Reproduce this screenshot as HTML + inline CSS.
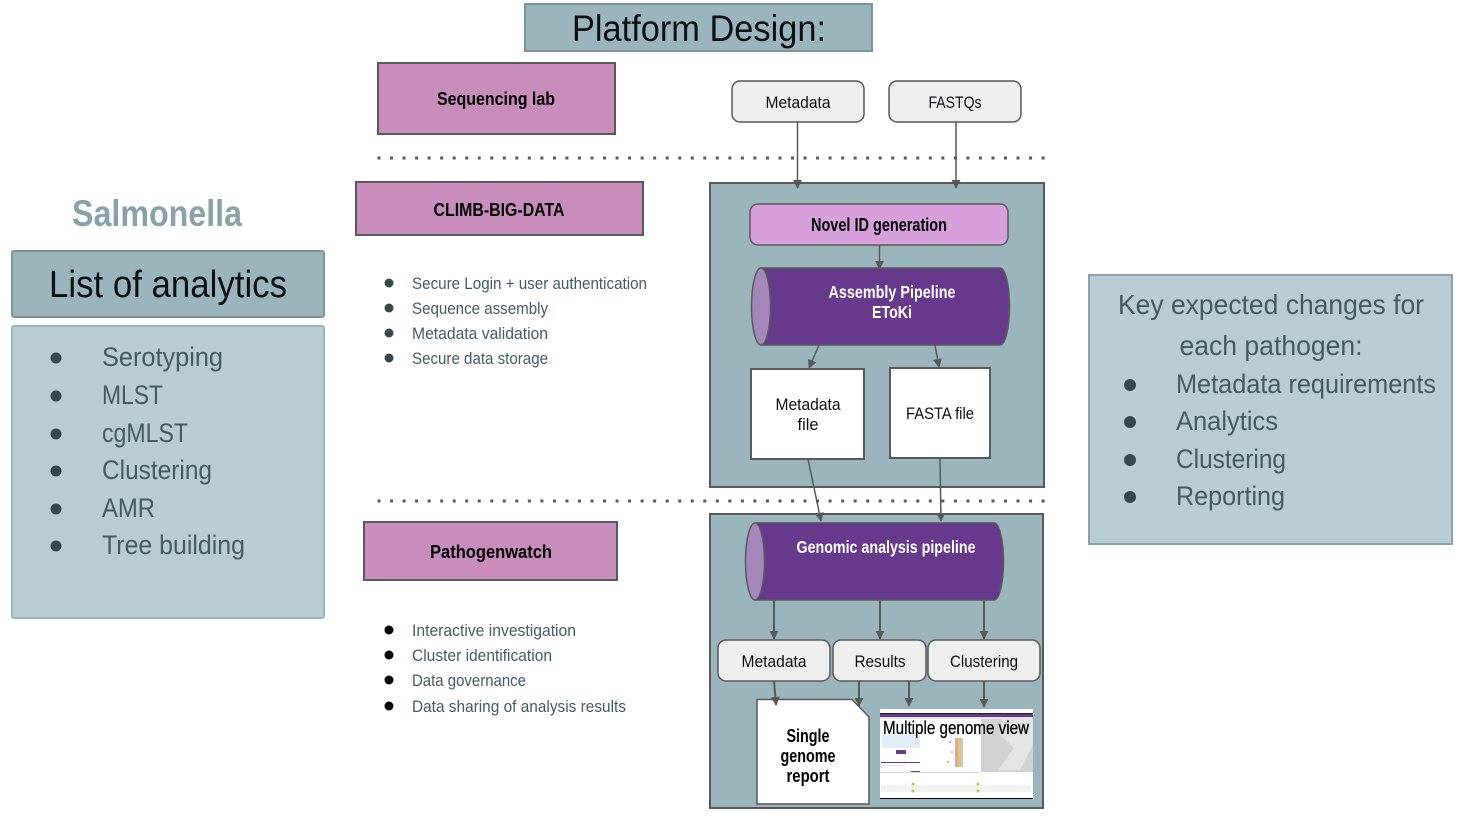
<!DOCTYPE html>
<html lang="en">
<head>
<meta charset="utf-8">
<title>Platform Design</title>
<style>
html,body{margin:0;padding:0;background:#fff;width:1462px;height:816px;overflow:hidden}
svg{display:block;font-family:"Liberation Sans",sans-serif}
</style>
</head>
<body>
<svg width="1462" height="816" viewBox="0 0 1462 816" xmlns="http://www.w3.org/2000/svg">
<defs>
<marker id="a" viewBox="0 0 10 10" refX="9" refY="5" markerWidth="9" markerHeight="9" markerUnits="userSpaceOnUse" orient="auto"><path d="M0 0L10 5L0 10Z" fill="#595959"/></marker>
</defs>

<!-- Title -->
<rect x="525" y="4" width="347" height="47" fill="#9bb5bd" stroke="#7d949c" stroke-width="2"/>
<text x="699" y="41" font-size="37" text-anchor="middle" textLength="254" lengthAdjust="spacingAndGlyphs" fill="#0b0f14">Platform Design:</text>

<!-- Left -->
<text x="157" y="226" font-size="37" font-weight="bold" text-anchor="middle" textLength="170" lengthAdjust="spacingAndGlyphs" fill="#8ba1aa">Salmonella</text>
<rect x="12" y="251" width="312" height="66" rx="2" fill="#9bb5bd" stroke="#7d949c" stroke-width="2"/>
<text x="168" y="297" font-size="38" text-anchor="middle" textLength="238" lengthAdjust="spacingAndGlyphs" fill="#0b0f14">List of analytics</text>
<rect x="12" y="326" width="312" height="292" rx="2" fill="#b9ccd3" stroke="#9bb5bd" stroke-width="2"/>
<g fill="#37474f">
<circle cx="56" cy="358" r="5.5"/><circle cx="56" cy="396" r="5.5"/><circle cx="56" cy="434" r="5.5"/><circle cx="56" cy="471" r="5.5"/><circle cx="56" cy="509" r="5.5"/><circle cx="56" cy="546" r="5.5"/>
</g>
<g font-size="27" fill="#455a64">
<text x="102" y="366" textLength="121" lengthAdjust="spacingAndGlyphs">Serotyping</text>
<text x="102" y="404" textLength="61" lengthAdjust="spacingAndGlyphs">MLST</text>
<text x="102" y="442" textLength="86" lengthAdjust="spacingAndGlyphs">cgMLST</text>
<text x="102" y="479" textLength="110" lengthAdjust="spacingAndGlyphs">Clustering</text>
<text x="102" y="517" textLength="53" lengthAdjust="spacingAndGlyphs">AMR</text>
<text x="102" y="554" textLength="143" lengthAdjust="spacingAndGlyphs">Tree building</text>
</g>

<!-- Purple labels -->
<rect x="378" y="63" width="237" height="71" fill="#c88dbd" stroke="#595959" stroke-width="2"/>
<text x="496" y="105" font-size="18" font-weight="bold" text-anchor="middle" textLength="118" lengthAdjust="spacingAndGlyphs" fill="#000">Sequencing lab</text>
<rect x="356" y="182" width="287" height="53" fill="#c88dbd" stroke="#595959" stroke-width="2"/>
<text x="499" y="216" font-size="18" font-weight="bold" text-anchor="middle" textLength="131" lengthAdjust="spacingAndGlyphs" fill="#000">CLIMB-BIG-DATA</text>
<rect x="364" y="522" width="253" height="58" fill="#c88dbd" stroke="#595959" stroke-width="2"/>
<text x="491" y="558" font-size="18" font-weight="bold" text-anchor="middle" textLength="122" lengthAdjust="spacingAndGlyphs" fill="#000">Pathogenwatch</text>

<!-- Dotted lines -->
<line x1="377.500" y1="158" x2="1046" y2="158" stroke="#595959" stroke-width="3" stroke-dasharray="3 9.53"/>
<line x1="377.500" y1="501" x2="1046" y2="501" stroke="#595959" stroke-width="3" stroke-dasharray="3 9.53"/>

<!-- Bullet lists -->
<g fill="#37474f"><circle cx="389" cy="283" r="4.5"/><circle cx="389" cy="308" r="4.5"/><circle cx="389" cy="333" r="4.5"/><circle cx="389" cy="358" r="4.5"/></g>
<g font-size="17" fill="#455a64">
<text x="412" y="289" textLength="235" lengthAdjust="spacingAndGlyphs">Secure Login + user authentication</text>
<text x="412" y="314" textLength="136" lengthAdjust="spacingAndGlyphs">Sequence assembly</text>
<text x="412" y="339" textLength="136" lengthAdjust="spacingAndGlyphs">Metadata validation</text>
<text x="412" y="364" textLength="136" lengthAdjust="spacingAndGlyphs">Secure data storage</text>
</g>
<g fill="#000"><circle cx="389" cy="630" r="4.5"/><circle cx="389" cy="655" r="4.5"/><circle cx="389" cy="680" r="4.5"/><circle cx="389" cy="706" r="4.5"/></g>
<g font-size="17" fill="#455a64">
<text x="412" y="636" textLength="164" lengthAdjust="spacingAndGlyphs">Interactive investigation</text>
<text x="412" y="661" textLength="140" lengthAdjust="spacingAndGlyphs">Cluster identification</text>
<text x="412" y="686" textLength="114" lengthAdjust="spacingAndGlyphs">Data governance</text>
<text x="412" y="712" textLength="214" lengthAdjust="spacingAndGlyphs">Data sharing of analysis results</text>
</g>

<!-- Top boxes -->
<rect x="732" y="81" width="132" height="41" rx="8" fill="#efefef" stroke="#595959" stroke-width="1.500"/>
<text x="798" y="108" font-size="17" text-anchor="middle" textLength="65" lengthAdjust="spacingAndGlyphs" fill="#0b0f14">Metadata</text>
<rect x="889" y="81" width="132" height="41" rx="8" fill="#efefef" stroke="#595959" stroke-width="1.500"/>
<text x="955" y="108" font-size="17" text-anchor="middle" textLength="53" lengthAdjust="spacingAndGlyphs" fill="#0b0f14">FASTQs</text>

<!-- Panel 1 -->
<rect x="710" y="183" width="334" height="304" fill="#9bb5bd" stroke="#595959" stroke-width="2"/>
<rect x="750" y="204" width="258" height="41" rx="8" fill="#d7a0dd" stroke="#595959" stroke-width="1.500"/>
<text x="879" y="231" font-size="18" font-weight="bold" text-anchor="middle" textLength="136" lengthAdjust="spacingAndGlyphs" fill="#000">Novel ID generation</text>

<path d="M761 268H1000A9.500 38.500 0 0 1 1000 345H761Z" fill="#67398d" stroke="#595959" stroke-width="1.500"/>
<ellipse cx="761" cy="306.500" rx="9.500" ry="38.500" fill="#a487bb" stroke="#595959" stroke-width="1.500"/>
<g font-size="17.500" font-weight="bold" fill="#fff" text-anchor="middle">
<text x="892" y="298" textLength="127" lengthAdjust="spacingAndGlyphs">Assembly Pipeline</text>
<text x="892" y="318" textLength="40" lengthAdjust="spacingAndGlyphs">EToKi</text>
</g>

<rect x="751" y="369" width="113" height="90" fill="#fff" stroke="#595959" stroke-width="2"/>
<text x="808" y="410" font-size="17" text-anchor="middle" textLength="65" lengthAdjust="spacingAndGlyphs" fill="#0b0f14">Metadata</text>
<text x="808" y="430" font-size="17" text-anchor="middle" textLength="21" lengthAdjust="spacingAndGlyphs" fill="#0b0f14">file</text>
<rect x="890" y="368" width="100" height="90" fill="#fff" stroke="#595959" stroke-width="2"/>
<text x="940" y="419" font-size="17" text-anchor="middle" textLength="68" lengthAdjust="spacingAndGlyphs" fill="#0b0f14">FASTA file</text>

<!-- Panel 2 -->
<rect x="710" y="514" width="333" height="294" fill="#9bb5bd" stroke="#595959" stroke-width="2"/>
<path d="M755 523H994A9.500 38.500 0 0 1 994 600H755Z" fill="#67398d" stroke="#595959" stroke-width="1.500"/>
<ellipse cx="755" cy="561.500" rx="9.500" ry="38.500" fill="#a487bb" stroke="#595959" stroke-width="1.500"/>
<text x="886" y="553" font-size="17.500" font-weight="bold" fill="#fff" text-anchor="middle" textLength="179" lengthAdjust="spacingAndGlyphs">Genomic analysis pipeline</text>

<rect x="718" y="640" width="112" height="41" rx="8" fill="#efefef" stroke="#595959" stroke-width="1.500"/>
<text x="774" y="667" font-size="17" text-anchor="middle" textLength="65" lengthAdjust="spacingAndGlyphs" fill="#0b0f14">Metadata</text>
<rect x="833" y="640" width="93" height="41" rx="8" fill="#efefef" stroke="#595959" stroke-width="1.500"/>
<text x="880" y="667" font-size="17" text-anchor="middle" textLength="51" lengthAdjust="spacingAndGlyphs" fill="#0b0f14">Results</text>
<rect x="928" y="640" width="112" height="41" rx="8" fill="#efefef" stroke="#595959" stroke-width="1.500"/>
<text x="984" y="667" font-size="17" text-anchor="middle" textLength="68" lengthAdjust="spacingAndGlyphs" fill="#0b0f14">Clustering</text>

<path d="M757 699.500H852L869 717V804H757Z" fill="#fff" stroke="#595959" stroke-width="1.500"/>
<g font-size="18" font-weight="bold" text-anchor="middle" fill="#000">
<text x="808" y="742" textLength="43" lengthAdjust="spacingAndGlyphs">Single</text>
<text x="808" y="762" textLength="55" lengthAdjust="spacingAndGlyphs">genome</text>
<text x="808" y="782" textLength="43" lengthAdjust="spacingAndGlyphs">report</text>
</g>

<!-- Screenshot thumbnail -->
<rect x="880" y="709" width="153" height="90" fill="#fff"/>
<rect x="880" y="713" width="153" height="1" fill="#222"/>
<rect x="880" y="714" width="153" height="3" fill="#67398d"/>
<rect x="880" y="717" width="153" height="2" fill="#e6e3ea"/>
<rect x="981" y="719" width="52" height="53" fill="#d2d2d2"/>
<path d="M1002 719L1033 719V745L1020 770H998L1014 748L1000 735Z" fill="#e4e4e4"/>
<rect x="882" y="735" width="38" height="13" fill="#e1eef5"/>
<rect x="896" y="750" width="10" height="4" fill="#67398d"/>
<rect x="881" y="762" width="39" height="1" fill="#67398d"/>
<rect x="881" y="765" width="25" height="1" fill="#e6e6e6"/>
<rect x="955" y="738" width="3" height="29" fill="#d9a8a8"/>
<rect x="958" y="738" width="3" height="29" fill="#e8c36a"/>
<rect x="961" y="738" width="2" height="29" fill="#c8c8d8"/>
<circle cx="950" cy="742" r="1" fill="#c9b05f"/><circle cx="952" cy="752" r="1" fill="#c9b05f"/><circle cx="948" cy="762" r="1" fill="#c9b05f"/>
<rect x="911" y="771" width="9" height="1" fill="#67398d"/>
<rect x="880" y="772" width="100" height="1" fill="#dcdcdc"/>
<rect x="881" y="785" width="150" height="7" fill="#f2f2f2"/>
<circle cx="913" cy="784" r="1.500" fill="#d4b84a"/><circle cx="978" cy="784" r="1.500" fill="#d4b84a"/>
<circle cx="913" cy="791" r="1.500" fill="#d4b84a"/><circle cx="978" cy="791" r="1.500" fill="#d4b84a"/>
<rect x="880" y="798" width="153" height="1" fill="#000"/>
<text x="956" y="734" font-size="18.500" text-anchor="middle" textLength="146" lengthAdjust="spacingAndGlyphs" fill="#000" stroke="#000" stroke-width="0.300">Multiple genome view</text>

<!-- Connectors -->
<g stroke="#595959" stroke-width="1.500" fill="none">
<line x1="797.500" y1="122" x2="797.500" y2="188" marker-end="url(#a)"/>
<line x1="956" y1="122" x2="956" y2="188" marker-end="url(#a)"/>
<line x1="879.500" y1="245" x2="879.500" y2="269" marker-end="url(#a)"/>
<line x1="819" y1="345" x2="809" y2="368" marker-end="url(#a)"/>
<line x1="935" y1="345" x2="939" y2="367" marker-end="url(#a)"/>
<line x1="808" y1="459" x2="821" y2="521" marker-end="url(#a)"/>
<line x1="940" y1="458" x2="941" y2="521" marker-end="url(#a)"/>
<line x1="774" y1="600" x2="774" y2="639" stroke-width="2" marker-end="url(#a)"/>
<line x1="880" y1="600" x2="880" y2="639" stroke-width="2" marker-end="url(#a)"/>
<line x1="984" y1="600" x2="984" y2="639" stroke-width="2" marker-end="url(#a)"/>
<line x1="774" y1="681" x2="776" y2="705" stroke-width="2" marker-end="url(#a)"/>
<line x1="859" y1="681" x2="859" y2="706" stroke-width="2" marker-end="url(#a)"/>
<line x1="909" y1="681" x2="909" y2="706" stroke-width="2" marker-end="url(#a)"/>
<line x1="984" y1="681" x2="984" y2="707" stroke-width="2" marker-end="url(#a)"/>
</g>

<!-- Right -->
<rect x="1089" y="275" width="363" height="269" fill="#b9ccd3" stroke="#8ba1aa" stroke-width="2"/>
<g font-size="28" fill="#455a64" text-anchor="middle">
<text x="1271" y="314" textLength="306" lengthAdjust="spacingAndGlyphs">Key expected changes for</text>
<text x="1271" y="355" textLength="183" lengthAdjust="spacingAndGlyphs">each pathogen:</text>
</g>
<g fill="#37474f"><circle cx="1130" cy="385" r="6"/><circle cx="1130" cy="422" r="6"/><circle cx="1130" cy="460" r="6"/><circle cx="1130" cy="497" r="6"/></g>
<g font-size="27" fill="#455a64">
<text x="1176" y="393" textLength="260" lengthAdjust="spacingAndGlyphs">Metadata requirements</text>
<text x="1176" y="430" textLength="102" lengthAdjust="spacingAndGlyphs">Analytics</text>
<text x="1176" y="468" textLength="110" lengthAdjust="spacingAndGlyphs">Clustering</text>
<text x="1176" y="505" textLength="109" lengthAdjust="spacingAndGlyphs">Reporting</text>
</g>
</svg>
</body>
</html>
